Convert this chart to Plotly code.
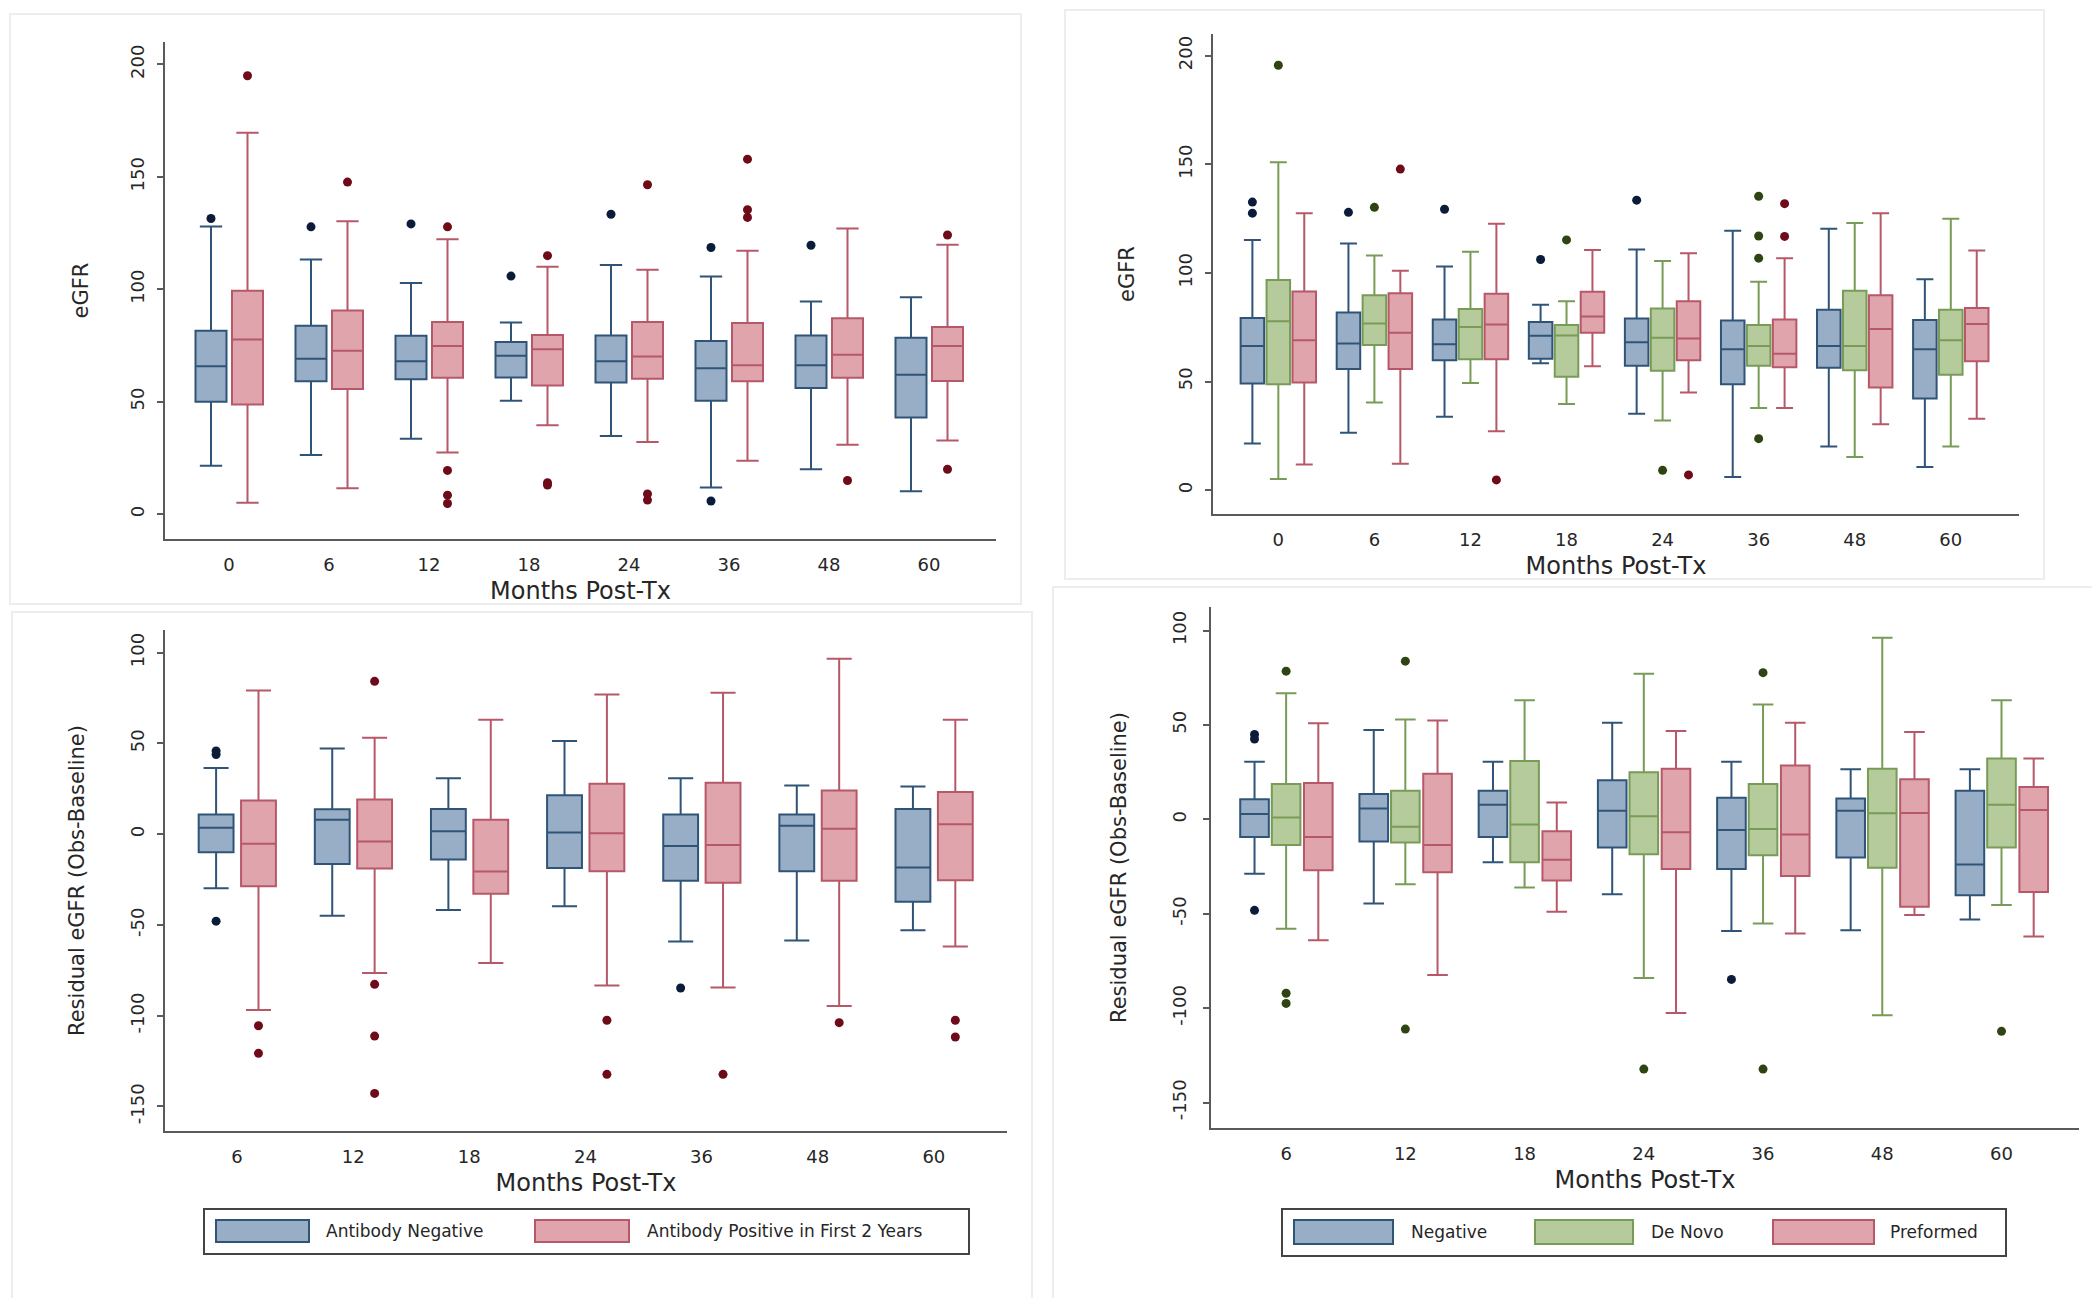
import plotly.graph_objects as go

W, H = 2100, 1298

# ---------------- DATA ----------------
months_egfr = ["0", "6", "12", "18", "24", "36", "48", "60"]
months_resid = ["6", "12", "18", "24", "36", "48", "60"]

# Panel A: eGFR by antibody status (2 groups)
a_neg_low = [21.6, 26.3, 33.6, 50.5, 34.8, 11.9, 20.0, 10.2]
a_neg_q1 = [50.0, 59.1, 60.0, 60.8, 58.6, 50.5, 56.1, 43.0]
a_neg_med = [65.8, 69.2, 68.0, 70.5, 68.0, 64.9, 66.3, 62.0]
a_neg_q3 = [81.6, 83.8, 79.4, 76.6, 79.5, 77.0, 79.5, 78.5]
a_neg_up = [128.0, 113.3, 102.8, 85.3, 110.8, 105.7, 94.6, 96.5]
a_neg_out = [[131.5], [127.8], [129.1], [105.9], [133.4], [118.6, 5.9], [119.6], []]

a_pos_low = [5.1, 11.6, 27.5, 39.6, 32.1, 23.8, 30.9, 32.8]
a_pos_q1 = [48.8, 55.7, 60.7, 57.3, 60.3, 59.1, 60.7, 59.3]
a_pos_med = [77.7, 72.7, 74.8, 73.4, 70.2, 66.3, 70.9, 74.8]
a_pos_q3 = [99.4, 90.6, 85.5, 79.7, 85.5, 85.0, 87.2, 83.3]
a_pos_up = [169.6, 130.3, 122.3, 110.1, 108.7, 117.2, 127.1, 119.8]
a_pos_out = [[195.0], [147.7], [127.8, 19.5, 8.5, 4.8], [115.0, 14.0, 13.0],
             [146.5, 9.0, 6.3], [157.9, 135.4, 132.0], [15.0], [124.2, 20.0]]

# Panel B: eGFR by antibody type (3 groups)
b_neg_low = [21.5, 26.4, 33.8, 58.4, 35.2, 6.0, 20.1, 10.6]
b_neg_q1 = [49.1, 55.8, 59.8, 60.5, 57.2, 48.7, 56.3, 42.2]
b_neg_med = [66.3, 67.5, 67.2, 71.1, 68.1, 64.9, 66.3, 64.9]
b_neg_q3 = [79.2, 81.8, 78.6, 77.4, 79.0, 78.1, 83.0, 78.3]
b_neg_up = [115.2, 113.5, 102.9, 85.3, 110.8, 119.4, 120.3, 97.1]
b_neg_out = [[132.6, 127.5], [127.9], [129.3], [106.2], [133.5], [], [], []]

b_dn_low = [5.1, 40.3, 49.3, 39.6, 32.0, 37.8, 15.3, 20.1]
b_dn_q1 = [48.7, 66.8, 60.2, 52.2, 54.9, 57.2, 55.2, 53.1]
b_dn_med = [77.7, 76.7, 75.1, 71.2, 70.2, 66.3, 66.3, 69.0]
b_dn_q3 = [96.7, 89.7, 83.4, 76.0, 83.6, 76.0, 91.8, 83.0]
b_dn_up = [150.9, 108.0, 109.8, 86.9, 105.5, 95.9, 123.0, 124.9]
b_dn_out = [[195.6], [130.2], [], [115.2], [9.1], [135.3, 117.0, 106.8, 23.7], [], []]

b_pf_low = [11.8, 12.1, 27.1, 57.0, 44.9, 37.8, 30.3, 32.9]
b_pf_q1 = [49.6, 55.8, 60.2, 72.5, 59.8, 56.6, 47.3, 59.3]
b_pf_med = [69.0, 72.5, 76.3, 79.9, 69.8, 62.8, 74.2, 76.5]
b_pf_q3 = [91.5, 90.6, 90.4, 91.3, 86.9, 78.6, 89.7, 83.9]
b_pf_up = [127.5, 101.0, 122.6, 110.6, 109.1, 106.8, 127.5, 110.3]
b_pf_out = [[], [147.8], [4.7], [], [7.0], [131.9, 116.8], [], []]

# Panel C: residual eGFR by antibody status (2 groups)
c_neg_low = [-29.8, -44.9, -41.7, -39.7, -59.1, -58.6, -52.9]
c_neg_q1 = [-9.9, -16.4, -13.9, -18.6, -25.6, -20.4, -37.2]
c_neg_med = [3.5, 7.9, 1.7, 1.0, -6.5, 4.7, -18.4]
c_neg_q3 = [10.9, 13.7, 13.9, 21.4, 10.9, 10.9, 13.9]
c_neg_up = [36.5, 47.2, 30.8, 51.4, 30.8, 26.8, 26.3]
c_neg_out = [[45.9, 43.9, -47.9], [], [], [], [-84.7], [], []]

c_pos_low = [-96.8, -76.5, -71.0, -83.4, -84.4, -94.6, -61.8]
c_pos_q1 = [-28.6, -18.9, -32.8, -20.4, -26.8, -25.6, -25.3]
c_pos_med = [-5.2, -4.0, -20.6, 0.5, -6.0, 3.0, 5.5]
c_pos_q3 = [18.6, 19.1, 7.9, 27.8, 28.3, 24.1, 23.3]
c_pos_up = [79.2, 53.1, 63.1, 77.0, 78.0, 96.6, 63.1]
c_pos_out = [[-105.5, -120.7], [84.2, -82.7, -111.2, -142.8], [], [-102.5, -132.3],
             [-132.3], [-103.8], [-102.5, -111.7]]

# Panel D: residual eGFR by antibody type (3 groups)
d_neg_low = [-28.8, -44.6, -22.7, -39.7, -59.2, -58.7, -53.1]
d_neg_q1 = [-9.3, -11.7, -9.3, -14.9, -26.3, -20.2, -40.2]
d_neg_med = [2.9, 5.8, 7.8, 4.6, -5.6, 4.6, -23.9]
d_neg_q3 = [10.7, 13.4, 15.1, 20.7, 11.5, 11.0, 15.1]
d_neg_up = [30.5, 47.3, 30.5, 51.2, 30.5, 26.6, 26.6]
d_neg_out = [[45.0, 42.6, -48.2], [], [], [], [-84.8], [], []]

d_dn_low = [-58.0, -34.4, -36.1, -84.1, -55.1, -103.8, -45.3]
d_dn_q1 = [-13.6, -12.2, -22.7, -18.5, -19.0, -25.6, -14.9]
d_dn_med = [1.0, -3.9, -2.7, 1.7, -5.1, 3.2, 7.8]
d_dn_q3 = [18.8, 15.1, 30.9, 24.9, 18.8, 26.8, 32.2]
d_dn_up = [66.8, 52.9, 63.1, 77.2, 60.9, 96.2, 63.1]
d_dn_out = [[78.5, -92.1, -97.5], [83.8, -111.1], [], [-132.3], [77.7, -132.3], [], [-112.3]]

d_pf_low = [-64.1, -82.4, -49.0, -102.6, -60.4, -50.7, -62.1]
d_pf_q1 = [-27.0, -28.0, -32.4, -26.3, -30.0, -46.3, -38.5]
d_pf_med = [-9.3, -13.6, -21.4, -6.8, -8.0, 3.4, 4.9]
d_pf_q3 = [19.2, 24.1, -6.3, 26.8, 28.5, 21.2, 17.1]
d_pf_up = [50.9, 52.4, 9.0, 46.8, 51.2, 46.3, 32.2]
d_pf_out = [[], [], [], [], [], [], []]

legend_two = ["Antibody Negative", "Antibody Positive in First 2 Years"]
legend_three = ["Negative", "De Novo", "Preformed"]

egfr_ticks = [0, 50, 100, 150, 200]
resid_ticks = [-150, -100, -50, 0, 50, 100]

# ---------------- STYLE ----------------
FONT = "DejaVu Sans, Liberation Sans, Arial, sans-serif"
TXT = "#262626"
AXC = "#5a5a5a"
BLUE = dict(fill="#98AEC7", line="#2F5478", out="#0B1C3A")
RED = dict(fill="#DFA4AC", line="#B65868", out="#6E0B18")
GREEN = dict(fill="#B6CB9B", line="#789B57", out="#2E4412")


def px_x(p):
    return p / W


def px_y(p):
    return 1 - p / H


fig = go.Figure()


def add_series(ax, cats, offset, width, low, q1, med, q3, up, outs, col, name):
    xs = [i + offset for i in range(len(cats))]
    fig.add_trace(go.Box(
        x=xs, q1=q1, median=med, q3=q3, lowerfence=low, upperfence=up,
        width=width, whiskerwidth=0.72, boxpoints=False,
        fillcolor=col["fill"], line=dict(color=col["line"], width=2),
        name=name, showlegend=False, hoverinfo="skip",
        xaxis="x" + ax, yaxis="y" + ax,
    ))
    ox, oy = [], []
    for i, vals in enumerate(outs):
        for v in vals:
            ox.append(i + offset)
            oy.append(v)
    fig.add_trace(go.Scatter(
        x=ox, y=oy, mode="markers",
        marker=dict(color=col["out"], size=9, line=dict(width=0)),
        showlegend=False, name=name + " outliers",
        xaxis="x" + ax, yaxis="y" + ax,
    ))


# Panel A (x/y)
add_series("", months_egfr, -0.18, 0.31, a_neg_low, a_neg_q1, a_neg_med, a_neg_q3, a_neg_up, a_neg_out, BLUE, legend_two[0])
add_series("", months_egfr, 0.185, 0.31, a_pos_low, a_pos_q1, a_pos_med, a_pos_q3, a_pos_up, a_pos_out, RED, legend_two[1])
# Panel B (x2/y2)
add_series("2", months_egfr, -0.27, 0.245, b_neg_low, b_neg_q1, b_neg_med, b_neg_q3, b_neg_up, b_neg_out, BLUE, legend_three[0])
add_series("2", months_egfr, 0.0, 0.245, b_dn_low, b_dn_q1, b_dn_med, b_dn_q3, b_dn_up, b_dn_out, GREEN, legend_three[1])
add_series("2", months_egfr, 0.27, 0.245, b_pf_low, b_pf_q1, b_pf_med, b_pf_q3, b_pf_up, b_pf_out, RED, legend_three[2])
# Panel C (x3/y3)
add_series("3", months_resid, -0.18, 0.30, c_neg_low, c_neg_q1, c_neg_med, c_neg_q3, c_neg_up, c_neg_out, BLUE, legend_two[0])
add_series("3", months_resid, 0.185, 0.30, c_pos_low, c_pos_q1, c_pos_med, c_pos_q3, c_pos_up, c_pos_out, RED, legend_two[1])
# Panel D (x4/y4)
add_series("4", months_resid, -0.265, 0.24, d_neg_low, d_neg_q1, d_neg_med, d_neg_q3, d_neg_up, d_neg_out, BLUE, legend_three[0])
add_series("4", months_resid, 0.0, 0.24, d_dn_low, d_dn_q1, d_dn_med, d_dn_q3, d_dn_up, d_dn_out, GREEN, legend_three[1])
add_series("4", months_resid, 0.27, 0.24, d_pf_low, d_pf_q1, d_pf_med, d_pf_q3, d_pf_up, d_pf_out, RED, legend_three[2])


def xaxis(dom, cats, rng, anchor, standoff):
    return dict(
        domain=dom, anchor=anchor, range=rng,
        tickmode="array", tickvals=list(range(len(cats))), ticktext=cats,
        showline=True, linecolor=AXC, linewidth=2, ticks="outside", ticklen=0,
        ticklabelstandoff=8,
        showgrid=False, zeroline=False,
        tickfont=dict(family=FONT, size=18, color=TXT),
        title=dict(text="Months Post-Tx", font=dict(family=FONT, size=24, color=TXT), standoff=standoff),
    )


def yaxis(dom, ticks, rng, anchor, title, standoff, lblpad=6):
    return dict(
        domain=dom, anchor=anchor, range=rng,
        tickmode="array", tickvals=ticks, ticktext=[str(t) for t in ticks], tickangle=-90,
        showline=True, linecolor=AXC, linewidth=2, ticks="outside", ticklen=6,
        tickcolor=AXC, tickwidth=1.5, ticklabelstandoff=lblpad,
        showgrid=False, zeroline=False,
        tickfont=dict(family=FONT, size=18, color=TXT),
        title=dict(text=title, font=dict(family=FONT, size=21, color=TXT), standoff=standoff),
    )


layout = dict(
    width=W, height=H,
    margin=dict(l=0, r=0, t=0, b=0),
    paper_bgcolor="white", plot_bgcolor="white",
    showlegend=False,
    boxmode="overlay",
    xaxis=xaxis([px_x(157), px_x(988)], months_egfr, [-0.64, 7.67], "y", 9),
    yaxis=yaxis([px_y(531), px_y(34)], egfr_ticks, [-11, 210], "x", "eGFR", 32),
    xaxis2=xaxis([px_x(1205), px_x(2011)], months_egfr, [-0.68, 7.71], "y2", 9),
    yaxis2=yaxis([px_y(506), px_y(26)], egfr_ticks, [-11, 210], "x2", "eGFR", 34),
    xaxis3=xaxis([px_x(157), px_x(999)], months_resid, [-0.62, 6.63], "y3", 9),
    yaxis3=yaxis([px_y(1123), px_y(622)], resid_ticks, [-163.5, 112.5], "x3", "Residual eGFR (Obs-Baseline)", 36),
    xaxis4=xaxis([px_x(1203), px_x(2071)], months_resid, [-0.63, 6.65], "y4", 9),
    yaxis4=yaxis([px_y(1120), px_y(599)], resid_ticks, [-163.5, 112.5], "x4", "Residual eGFR (Obs-Baseline)", 36, 10),
)
fig.update_layout(**layout)

shapes = []
annotations = []

# faint panel frames
for (x0, y0, x1, y1) in [(2, 6, 1013, 596), (1057, 2, 2036, 571), (4, 604, 1024, 1292), (1045, 579, 2096, 1296)]:
    shapes.append(dict(type="rect", xref="paper", yref="paper",
                       x0=px_x(x0), x1=px_x(x1), y0=px_y(y1), y1=px_y(y0),
                       line=dict(color="#EDEDED", width=2), fillcolor="rgba(0,0,0,0)", layer="below"))


def manual_legend(box, items):
    bx0, by0, bx1, by1 = box
    shapes.append(dict(type="rect", xref="paper", yref="paper",
                       x0=px_x(bx0), x1=px_x(bx1), y0=px_y(by1), y1=px_y(by0),
                       line=dict(color="#444444", width=2), fillcolor="white"))
    for (sx0, sx1, sy0, sy1, tx, label, col) in items:
        shapes.append(dict(type="rect", xref="paper", yref="paper",
                           x0=px_x(sx0), x1=px_x(sx1), y0=px_y(sy1), y1=px_y(sy0),
                           line=dict(color=col["line"], width=2), fillcolor=col["fill"]))
        annotations.append(dict(xref="paper", yref="paper", x=px_x(tx), y=px_y((sy0 + sy1) / 2),
                                text=label, showarrow=False, xanchor="left", yanchor="middle",
                                font=dict(family=FONT, size=17, color=TXT)))


manual_legend((196, 1201, 961, 1246), [
    (208, 301, 1212, 1234, 316, legend_two[0], BLUE),
    (527, 621, 1212, 1234, 637, legend_two[1], RED),
])
manual_legend((1274, 1201, 1998, 1248), [
    (1286, 1385, 1212, 1236, 1401, legend_three[0], BLUE),
    (1527, 1625, 1212, 1236, 1641, legend_three[1], GREEN),
    (1765, 1866, 1212, 1236, 1880, legend_three[2], RED),
])

fig.update_layout(shapes=shapes, annotations=annotations)

fig.write_html("out.html")
